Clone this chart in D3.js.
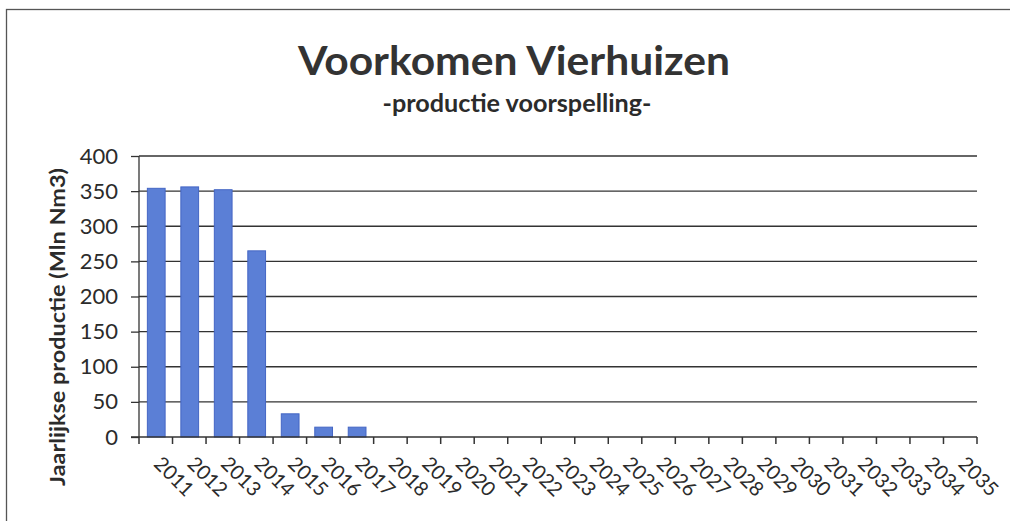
<!doctype html>
<html lang="nl">
<head>
  <meta charset="utf-8">
  <script src="https://d3js.org/d3.v7.min.js"></script>
  <style>
    body { margin: 0; background: #fff; }
    text { font-family: Lato, "Open Sans", sans-serif; fill: #2b2b2b; }
  </style>
</head>
<body>
<div id="chart"></div>
<script>
// data
var years = ["2011","2012","2013","2014","2015","2016","2017","2018","2019","2020",
             "2021","2022","2023","2024","2025","2026","2027","2028","2029","2030",
             "2031","2032","2033","2034","2035"];
var production = [354, 356, 352, 265, 33, 14, 14, 0, 0, 0,
                  0, 0, 0, 0, 0, 0, 0, 0, 0, 0,
                  0, 0, 0, 0, 0];
var yTicks = [0, 50, 100, 150, 200, 250, 300, 350, 400];

var W = 1010, H = 521;
var margin = {left: 139, right: 33, top: 156, bottom: 84};

var svg = d3.select("#chart").append("svg")
    .attr("width", W)
    .attr("height", H);

// outer frame of the chart (right and bottom edges fall outside the picture)
svg.append("rect")
    .attr("x", 6.5).attr("y", 9.5)
    .attr("width", 1040).attr("height", 540)
    .attr("fill", "none").attr("stroke", "#555").attr("stroke-width", 1.3);

var x = d3.scaleBand()
    .domain(years)
    .range([margin.left, W - margin.right])
    .paddingInner(0.47)
    .paddingOuter(0.25);

var xTick = d3.scaleBand().domain(years).range([margin.left, W - margin.right]);

var y = d3.scaleLinear()
    .domain([0, 400])
    .range([H - margin.bottom, margin.top]);

// gridlines
svg.append("g")
  .selectAll("line")
  .data(yTicks.slice(1))
  .enter().append("line")
    .attr("x1", margin.left).attr("x2", W - margin.right)
    .attr("y1", function(d) { return y(d); })
    .attr("y2", function(d) { return y(d); })
    .attr("stroke", "#333").attr("stroke-width", 1.3);

// bars
svg.append("g")
  .selectAll("rect")
  .data(years)
  .enter().append("rect")
    .attr("x", function(d) { return x(d); })
    .attr("y", function(d, i) { return y(production[i]); })
    .attr("width", x.bandwidth())
    .attr("height", function(d, i) { return y(0) - y(production[i]); })
    .attr("fill", "#5b7fd6")
    .attr("stroke", "#4466c4")
    .attr("stroke-width", 1);

// y axis
var yAxis = svg.append("g")
    .attr("transform", "translate(" + margin.left + ",0)")
    .call(d3.axisLeft(y).tickValues(yTicks).tickSize(8).tickPadding(13));
yAxis.selectAll("text")
    .style("font-size", "22px")
    .style("fill", "#2b2b2b");
yAxis.selectAll("line, path").attr("stroke", "#333").attr("stroke-width", 1.3);
yAxis.select(".domain").attr("d", "M0," + y(400) + "V" + y(0));

// x axis: ticks between categories
var edges = years.map(function(d) { return xTick(d); }).concat([W - margin.right]);
var xAxis = svg.append("g");
xAxis.append("line")
    .attr("x1", margin.left - 8).attr("x2", W - margin.right)
    .attr("y1", y(0)).attr("y2", y(0))
    .attr("stroke", "#333").attr("stroke-width", 1.3);
xAxis.selectAll(".tick")
  .data(edges)
  .enter().append("line")
    .attr("x1", function(d) { return d; }).attr("x2", function(d) { return d; })
    .attr("y1", y(0)).attr("y2", y(0) + 7)
    .attr("stroke", "#333").attr("stroke-width", 1.5);
xAxis.selectAll("text")
  .data(years)
  .enter().append("text")
    .attr("transform", function(d) {
      return "translate(" + (xTick(d) + xTick.bandwidth() / 2 - 3) + "," + (y(0) + 28) + ") rotate(45)";
    })
    .attr("text-anchor", "start")
    .style("font-size", "20px")
    .text(function(d) { return d; });

// titles
svg.append("text")
    .attr("x", 514).attr("y", 75)
    .attr("text-anchor", "middle")
    .attr("textLength", 432).attr("lengthAdjust", "spacingAndGlyphs")
    .style("font-size", "40px").style("font-weight", "bold").style("fill", "#333")
    .text("Voorkomen Vierhuizen");
svg.append("text")
    .attr("x", 517).attr("y", 112)
    .attr("text-anchor", "middle")
    .attr("textLength", 269).attr("lengthAdjust", "spacingAndGlyphs")
    .style("font-size", "24px").style("font-weight", "bold").style("fill", "#2b2b2b")
    .text("-productie voorspelling-");

svg.append("text")
    .attr("transform", "translate(65,327) rotate(-90)")
    .attr("text-anchor", "middle")
    .attr("textLength", 318).attr("lengthAdjust", "spacingAndGlyphs")
    .style("font-size", "20px").style("font-weight", "bold").style("fill", "#2b2b2b")
    .text("Jaarlijkse productie (Mln Nm3)");
</script>
</body>
</html>
